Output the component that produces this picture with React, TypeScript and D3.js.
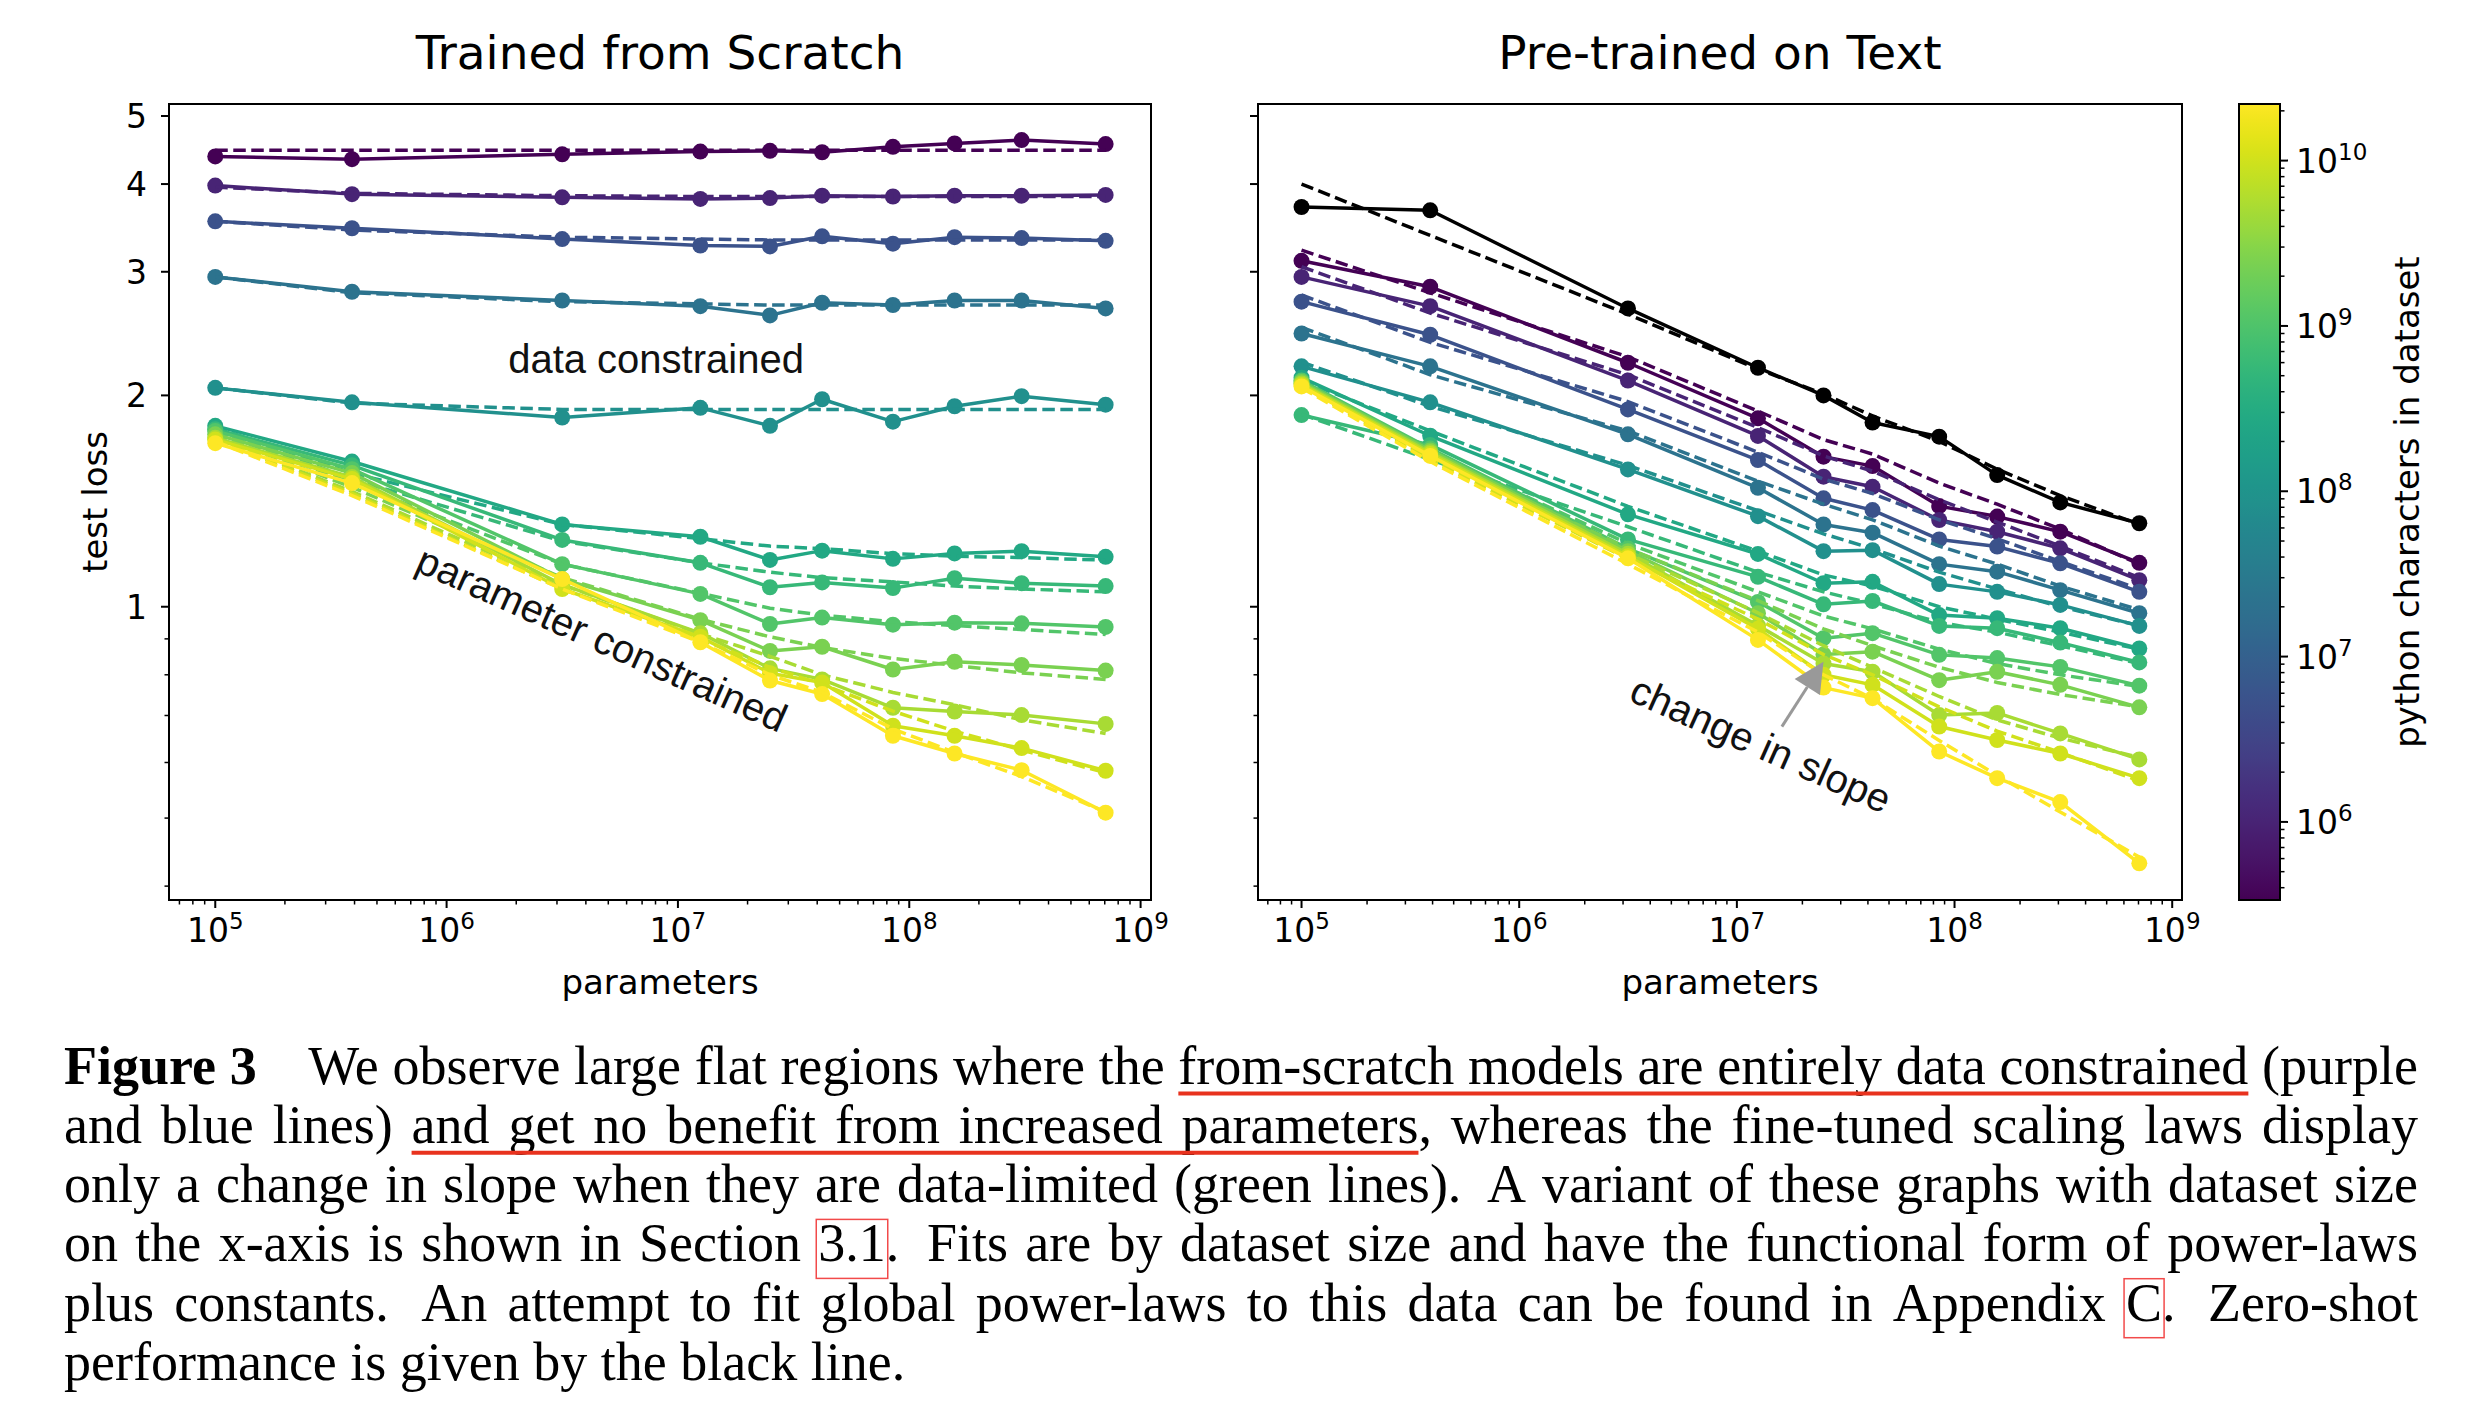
import React, { useEffect, useRef } from "react";
import * as d3 from "d3";

// ---------------- data ----------------
const parameters = [1e5, 3.9e5, 3.16e6, 1.25e7, 2.5e7, 4.2e7, 8.5e7, 1.57e8, 3.06e8, 7.06e8];
const datasetChars = [3.37e5, 1.0e6, 5.4e6, 2.3e7, 8.6e7, 2.6e8, 5.7e8, 1.1e9, 2.4e9, 5.2e9, 1.0e10, 2.2e10];

const scratchLoss = [
  [4.38, 4.34, 4.41, 4.45, 4.46, 4.44, 4.52, 4.57, 4.62, 4.56],
  [3.98, 3.87, 3.83, 3.81, 3.82, 3.85, 3.84, 3.85, 3.85, 3.86],
  [3.54, 3.46, 3.34, 3.27, 3.26, 3.37, 3.29, 3.36, 3.35, 3.32],
  [2.95, 2.81, 2.73, 2.68, 2.6, 2.71, 2.69, 2.73, 2.73, 2.66],
  [2.05, 1.955, 1.86, 1.92, 1.81, 1.975, 1.835, 1.93, 1.995, 1.94],
  [1.81, 1.61, 1.31, 1.258, 1.166, 1.202, 1.17, 1.191, 1.2, 1.178],
  [1.79, 1.59, 1.245, 1.155, 1.066, 1.083, 1.063, 1.098, 1.08, 1.07],
  [1.78, 1.57, 1.15, 1.043, 0.945, 0.965, 0.943, 0.949, 0.947, 0.936],
  [1.76, 1.55, 1.095, 0.957, 0.865, 0.877, 0.814, 0.835, 0.826, 0.811],
  [1.74, 1.53, 1.075, 0.917, 0.817, 0.788, 0.718, 0.709, 0.701, 0.681],
  [1.73, 1.52, 1.06, 0.906, 0.804, 0.78, 0.677, 0.655, 0.629, 0.584],
  [1.71, 1.5, 1.095, 0.89, 0.785, 0.751, 0.655, 0.618, 0.585, 0.509],
];
const scratchFit = [
  [4.47, 4.47, 4.47, 4.47, 4.47, 4.47, 4.47, 4.47, 4.47, 4.47],
  [3.96, 3.88, 3.85, 3.84, 3.84, 3.84, 3.84, 3.84, 3.84, 3.84],
  [3.54, 3.44, 3.36, 3.34, 3.33, 3.33, 3.33, 3.33, 3.33, 3.33],
  [2.95, 2.8, 2.72, 2.7, 2.69, 2.69, 2.69, 2.69, 2.69, 2.69],
  [2.05, 1.95, 1.91, 1.91, 1.91, 1.91, 1.91, 1.91, 1.91, 1.91],
  [1.8, 1.55, 1.31, 1.25, 1.22, 1.21, 1.19, 1.18, 1.175, 1.165],
  [1.79, 1.52, 1.24, 1.155, 1.12, 1.1, 1.085, 1.07, 1.06, 1.05],
  [1.78, 1.5, 1.15, 1.045, 0.995, 0.973, 0.952, 0.94, 0.928, 0.913],
  [1.76, 1.48, 1.1, 0.96, 0.906, 0.875, 0.844, 0.825, 0.805, 0.788],
  [1.74, 1.46, 1.075, 0.915, 0.85, 0.8, 0.755, 0.725, 0.69, 0.66],
  [1.73, 1.45, 1.06, 0.9, 0.82, 0.775, 0.71, 0.665, 0.625, 0.58],
  [1.72, 1.44, 1.06, 0.89, 0.8, 0.755, 0.67, 0.62, 0.573, 0.51],
];
const pretrainedLoss = [
  [3.11, 2.856, 2.226, 1.855, 1.636, 1.586, 1.391, 1.344, 1.279, 1.155],
  [2.95, 2.68, 2.1, 1.751, 1.532, 1.482, 1.329, 1.279, 1.211, 1.091],
  [2.72, 2.44, 1.91, 1.618, 1.427, 1.373, 1.247, 1.218, 1.153, 1.05],
  [2.45, 2.2, 1.76, 1.477, 1.31, 1.275, 1.15, 1.122, 1.056, 0.979],
  [2.2, 1.955, 1.569, 1.346, 1.2, 1.204, 1.077, 1.05, 1.006, 0.939],
  [2.12, 1.752, 1.354, 1.189, 1.08, 1.085, 0.973, 0.963, 0.932, 0.872],
  [1.875, 1.7, 1.247, 1.103, 1.008, 1.019, 0.939, 0.932, 0.889, 0.833],
  [2.1, 1.68, 1.21, 1.016, 0.902, 0.917, 0.854, 0.845, 0.821, 0.772],
  [2.09, 1.67, 1.2, 0.979, 0.855, 0.863, 0.786, 0.808, 0.774, 0.719],
  [2.08, 1.66, 1.19, 0.94, 0.83, 0.808, 0.701, 0.706, 0.66, 0.606],
  [2.07, 1.65, 1.18, 0.93, 0.8, 0.774, 0.675, 0.646, 0.618, 0.57],
  [2.06, 1.64, 1.172, 0.897, 0.767, 0.741, 0.622, 0.57, 0.527, 0.431],
];
const pretrainedFit = [
  [3.22, 2.8, 2.27, 1.9, 1.73, 1.65, 1.5, 1.4, 1.29, 1.15],
  [3.05, 2.62, 2.14, 1.8, 1.64, 1.56, 1.42, 1.32, 1.22, 1.1],
  [2.78, 2.38, 1.96, 1.66, 1.52, 1.45, 1.33, 1.25, 1.16, 1.06],
  [2.5, 2.14, 1.78, 1.51, 1.4, 1.33, 1.22, 1.15, 1.07, 0.99],
  [2.23, 1.93, 1.59, 1.37, 1.27, 1.21, 1.12, 1.06, 1.0, 0.94],
  [2.1, 1.78, 1.39, 1.2, 1.11, 1.07, 1.0, 0.96, 0.92, 0.87],
  [1.88, 1.62, 1.3, 1.12, 1.05, 1.01, 0.95, 0.92, 0.88, 0.83],
  [2.09, 1.66, 1.23, 1.05, 0.97, 0.93, 0.87, 0.83, 0.8, 0.77],
  [2.08, 1.65, 1.21, 1.02, 0.93, 0.88, 0.82, 0.78, 0.75, 0.72],
  [2.07, 1.63, 1.19, 0.98, 0.88, 0.82, 0.745, 0.69, 0.65, 0.61],
  [2.06, 1.62, 1.17, 0.96, 0.855, 0.8, 0.72, 0.665, 0.62, 0.565],
  [2.05, 1.61, 1.15, 0.92, 0.8, 0.74, 0.645, 0.575, 0.51, 0.44],
];
const zeroShotLoss = [3.71, 3.67, 2.66, 2.19, 2.0, 1.83, 1.747, 1.54, 1.408, 1.315];
const zeroShotFit = [4.0, 3.38, 2.61, 2.18, 2.01, 1.87, 1.72, 1.57, 1.44, 1.31];

const xMajorTicks = [1e5, 1e6, 1e7, 1e8, 1e9];
const yMajorTicks = [1, 2, 3, 4, 5];
const yMinorTicks = [0.4, 0.5, 0.6, 0.7, 0.8, 0.9];
const cbarMajorTicks = [1e6, 1e7, 1e8, 1e9, 1e10];
const panelTitles = ["Trained from Scratch", "Pre-trained on Text"];
const xLabel = "parameters";
const yLabel = "test loss";
const cbarLabel = "python characters in dataset";

const captionLines = [
  "{b:Figure} {b:3} ^We observe large flat regions where the {u:from-scratch} {u:models} {u:are} {u:entirely} {u:data} {u:constrained} (purple",
  "and blue lines) {u:and} {u:get} {u:no} {u:benefit} {u:from} {u:increased} {u:parameters}, whereas the fine-tuned scaling laws display",
  "only a change in slope when they are data-limited (green lines). ~A variant of these graphs with dataset size",
  "on the x-axis is shown in Section {x:3.1}. ~Fits are by dataset size and have the functional form of power-laws",
  "plus constants. ~An attempt to fit global power-laws to this data can be found in Appendix {x:C}. ~Zero-shot",
  "performance is given by the black line.",
];

// ---------------- layout ----------------
const W = 2492;
const H = 1420;
const TOP = 104;
const BOTTOM = 900;
const FONT = "DejaVu Sans";
const ANNOT_FONT = "Liberation Sans";
const TICK_FS = 33;
const LABEL_FS = 34;
const LW = 3.5;
const MR = 8;
const xDomain: [number, number] = [10 ** 4.8, 10 ** 9.045];
const yDomain: [number, number] = [0.3822, 5.201];
const panelBoxes = [
  { left: 169, right: 1151 },
  { left: 1258, right: 2182 },
];
const CB_LEFT = 2239;
const CB_RIGHT = 2280;

const yScale = d3.scaleLog().domain(yDomain).range([BOTTOM, TOP]);
const color = d3
  .scaleSequentialLog(d3.interpolateViridis)
  .domain([d3.min(datasetChars) as number, d3.max(datasetChars) as number]);
const cbScale = d3.scaleLog().domain(color.domain()).range([BOTTOM, TOP]);

const xMinorTicks = d3
  .range(4, 10)
  .flatMap((k) => d3.range(2, 10).map((m) => m * 10 ** k))
  .filter((v) => v > xDomain[0] && v < xDomain[1]);
const cbMinorTicks = d3
  .range(5, 11)
  .flatMap((k) => d3.range(2, 10).map((m) => m * 10 ** k))
  .filter((v) => v > color.domain()[0] && v < color.domain()[1]);

function Pow10({ x, y, k, anchor }: { x: number; y: number; k: number; anchor: string }) {
  return (
    <text x={x} y={y} textAnchor={anchor} fontSize={TICK_FS} fontFamily={FONT}>
      10
      <tspan dy={-13} fontSize={23}>
        {k}
      </tspan>
    </text>
  );
}

function Panel({ idx }: { idx: number }) {
  const { left, right } = panelBoxes[idx];
  const xs = d3.scaleLog().domain(xDomain).range([left, right]);
  const line = d3
    .line<number>()
    .x((_, i) => xs(parameters[i]))
    .y((d) => yScale(d));
  const loss = idx === 0 ? scratchLoss : pretrainedLoss;
  const fit = idx === 0 ? scratchFit : pretrainedFit;
  const cx = (left + right) / 2;

  const series = loss.map((vals, i) => ({ vals, fit: fit[i], c: color(datasetChars[i]) as string }));
  if (idx === 1) series.unshift({ vals: zeroShotLoss, fit: zeroShotFit, c: "#000000" });

  return (
    <g>
      <text x={cx} y={69} textAnchor="middle" fontSize={47} fontFamily={FONT}>
        {panelTitles[idx]}
      </text>
      {series.map((s, i) => (
        <g key={i}>
          <path d={line(s.vals) || ""} fill="none" stroke={s.c} strokeWidth={LW} strokeLinejoin="round" />
          {s.vals.map((v, j) => (
            <circle key={j} cx={xs(parameters[j])} cy={yScale(v)} r={MR} fill={s.c} />
          ))}
          <path d={line(s.fit) || ""} fill="none" stroke={s.c} strokeWidth={LW} strokeDasharray="12.5 5.5" />
        </g>
      ))}
      <rect x={left} y={TOP} width={right - left} height={BOTTOM - TOP} fill="none" stroke="#000" strokeWidth={2} />
      {xMajorTicks.map((v, i) => (
        <g key={"xM" + i}>
          <line x1={xs(v)} x2={xs(v)} y1={BOTTOM} y2={BOTTOM + 8} stroke="#000" strokeWidth={2} />
          <Pow10 x={xs(v)} y={942} k={Math.round(Math.log10(v))} anchor="middle" />
        </g>
      ))}
      {xMinorTicks.map((v, i) => (
        <line key={"xm" + i} x1={xs(v)} x2={xs(v)} y1={BOTTOM} y2={BOTTOM + 4.5} stroke="#000" strokeWidth={1.5} />
      ))}
      {yMajorTicks.map((v, i) => (
        <g key={"yM" + i}>
          <line x1={left - 8} x2={left} y1={yScale(v)} y2={yScale(v)} stroke="#000" strokeWidth={2} />
          {idx === 0 && (
            <text x={147} y={yScale(v) + 12} textAnchor="end" fontSize={TICK_FS} fontFamily={FONT}>
              {String(v)}
            </text>
          )}
        </g>
      ))}
      {yMinorTicks.map((v, i) => (
        <line key={"ym" + i} x1={left - 4.5} x2={left} y1={yScale(v)} y2={yScale(v)} stroke="#000" strokeWidth={1.5} />
      ))}
      <text x={cx} y={994} textAnchor="middle" fontSize={LABEL_FS} fontFamily={FONT}>
        {xLabel}
      </text>
    </g>
  );
}

export default function App() {
  const capRef = useRef<SVGGElement>(null);

  const xsL = d3.scaleLog().domain(xDomain).range([panelBoxes[0].left, panelBoxes[0].right]);
  const xsR = d3.scaleLog().domain(xDomain).range([panelBoxes[1].left, panelBoxes[1].right]);

  const annotations = [
    { xs: xsL, text: "data constrained", x: 8.04e6, y: 2.254, rot: 0 },
    { xs: xsL, text: "parameter constrained", x: 4.7e6, y: 0.9, rot: 24 },
    { xs: xsR, text: "change in slope", x: 1.29e7, y: 0.637, rot: 24 },
  ];
  const arrowTail = [xsR(1.61e7), yScale(0.675)];
  const arrowTip = [xsR(2.5e7), yScale(0.835)];
  const ang = Math.atan2(arrowTip[1] - arrowTail[1], arrowTip[0] - arrowTail[0]);
  const headLen = 30;
  const headHalf = 15;
  const baseX = arrowTip[0] - headLen * Math.cos(ang);
  const baseY = arrowTip[1] - headLen * Math.sin(ang);
  const px = -Math.sin(ang);
  const py = Math.cos(ang);
  const headPts = [
    [arrowTip[0], arrowTip[1]],
    [baseX + headHalf * px, baseY + headHalf * py],
    [baseX - headHalf * px, baseY - headHalf * py],
  ]
    .map((p) => p.join(","))
    .join(" ");

  const gradStops = d3.range(0, 1.0001, 0.02);

  useEffect(() => {
    const g = d3.select(capRef.current as SVGGElement);
    g.selectAll("*").remove();
    const left = 64;
    const right = 2418;
    const fs = 54;
    const lh = 59.3;
    const base0 = 1083.5;
    captionLines.forEach((line, li) => {
      const baseline = base0 + li * lh;
      const words = line.split(" ").map((tok0) => {
        let tok = tok0;
        let weight = 1;
        let extra = 0;
        if (tok.startsWith("^")) {
          extra = 0.7 * fs;
          tok = tok.slice(1);
        } else if (tok.startsWith("~")) {
          weight = 1.6;
          tok = tok.slice(1);
        }
        const pieces: any[] = [];
        const re = /\{(\w):([^}]*)\}|([^{]+)/g;
        let m: RegExpExecArray | null;
        while ((m = re.exec(tok))) {
          if (m[1]) pieces.push({ s: m[2], kind: m[1] });
          else pieces.push({ s: m[3], kind: "" });
        }
        return { weight, extra, pieces };
      });
      words.forEach((w) =>
        w.pieces.forEach((p: any) => {
          const t = g
            .append("text")
            .attr("font-family", "Liberation Serif")
            .attr("font-size", fs)
            .attr("font-weight", p.kind === "b" ? "bold" : "normal")
            .attr("fill", "#000")
            .text(p.s);
          p.el = t;
          p.w = (t.node() as SVGTextElement).getComputedTextLength();
        })
      );
      const sumW = d3.sum(words, (w) => d3.sum(w.pieces, (p: any) => p.w));
      const sumWeights = d3.sum(words.slice(1), (w) => w.weight);
      const sumExtra = d3.sum(words.slice(1), (w) => w.extra);
      const justify = li < captionLines.length - 1;
      const base = justify ? (right - left - sumW - sumExtra) / sumWeights : 0.25 * fs;
      let x = left;
      let uStart: number | null = null;
      let uEnd = 0;
      words.forEach((w, wi) => {
        if (wi > 0) x += base * w.weight + w.extra;
        w.pieces.forEach((p: any) => {
          p.el.attr("x", x).attr("y", baseline);
          if (p.kind === "u") {
            if (uStart === null) uStart = x;
            uEnd = x + p.w;
          }
          if (p.kind === "x") {
            g.append("rect")
              .attr("x", x - 2)
              .attr("y", baseline - 42)
              .attr("width", p.w + 4)
              .attr("height", 59)
              .attr("fill", "none")
              .attr("stroke", "#f24a4a")
              .attr("stroke-width", 1.5);
          }
          x += p.w;
        });
      });
      if (uStart !== null) {
        g.append("line")
          .attr("x1", uStart)
          .attr("x2", uEnd)
          .attr("y1", baseline + 10)
          .attr("y2", baseline + 10)
          .attr("stroke", "#e8321e")
          .attr("stroke-width", 4);
      }
    });
  }, []);

  return (
    <svg
      width={W}
      height={H}
      viewBox={`0 0 ${W} ${H}`}
      style={{ position: "absolute", left: 0, top: 0, background: "#fff" }}
    >
      <defs>
        <linearGradient id="viridisGrad" x1="0" y1="1" x2="0" y2="0">
          {gradStops.map((t, i) => (
            <stop key={i} offset={t} stopColor={d3.interpolateViridis(t)} />
          ))}
        </linearGradient>
      </defs>
      <rect width={W} height={H} fill="#fff" />
      <Panel idx={0} />
      <Panel idx={1} />
      <text
        transform={`translate(95,${(TOP + BOTTOM) / 2}) rotate(-90)`}
        textAnchor="middle"
        dy="0.35em"
        fontSize={LABEL_FS}
        fontFamily={FONT}
      >
        {yLabel}
      </text>
      {annotations.map((a, i) => (
        <text
          key={i}
          transform={`translate(${a.xs(a.x)},${yScale(a.y)}) rotate(${a.rot})`}
          textAnchor="middle"
          dy="0.35em"
          fontSize={40}
          fontFamily={ANNOT_FONT}
          fill="#111"
        >
          {a.text}
        </text>
      ))}
      <line x1={arrowTail[0]} y1={arrowTail[1]} x2={baseX} y2={baseY} stroke="#999" strokeWidth={3} />
      <polygon points={headPts} fill="#999" />
      {/* colorbar */}
      <rect x={CB_LEFT} y={TOP} width={CB_RIGHT - CB_LEFT} height={BOTTOM - TOP} fill="url(#viridisGrad)" />
      <rect
        x={CB_LEFT}
        y={TOP}
        width={CB_RIGHT - CB_LEFT}
        height={BOTTOM - TOP}
        fill="none"
        stroke="#000"
        strokeWidth={2}
      />
      {cbarMajorTicks.map((v, i) => (
        <g key={"cM" + i}>
          <line x1={CB_RIGHT} x2={CB_RIGHT + 8} y1={cbScale(v)} y2={cbScale(v)} stroke="#000" strokeWidth={2} />
          <Pow10 x={2296} y={cbScale(v) + 12} k={Math.round(Math.log10(v))} anchor="start" />
        </g>
      ))}
      {cbMinorTicks.map((v, i) => (
        <line key={"cm" + i} x1={CB_RIGHT} x2={CB_RIGHT + 4.5} y1={cbScale(v)} y2={cbScale(v)} stroke="#000" strokeWidth={1.5} />
      ))}
      <text
        transform={`translate(2407,${(TOP + BOTTOM) / 2}) rotate(-90)`}
        textAnchor="middle"
        dy="0.35em"
        fontSize={LABEL_FS}
        fontFamily={FONT}
      >
        {cbarLabel}
      </text>
      <g ref={capRef} />
    </svg>
  );
}
